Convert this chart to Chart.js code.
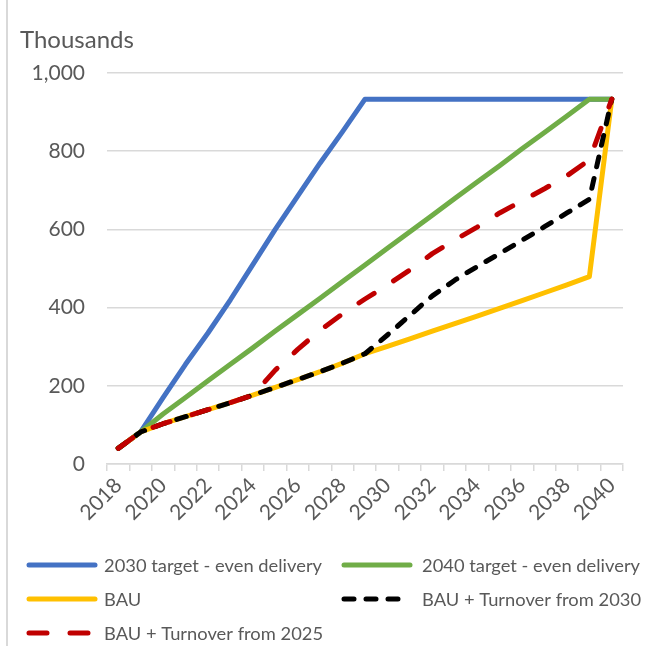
<!DOCTYPE html>
<html>
<head>
<meta charset="utf-8">
<script src="https://cdn.jsdelivr.net/npm/chart.js@4/dist/chart.umd.min.js"></script>
<style>
  html, body { margin: 0; padding: 0; background: #fff; }
  #wrap { width: 646px; height: 646px; }
</style>
</head>
<body>
<div id="wrap"><canvas id="chart" width="646" height="646"></canvas></div>
<script>
// Years on the x axis (every other one gets a label)
const years = ['2018', '2019', '2020', '2021', '2022', '2023', '2024', '2025', '2026', '2027', '2028', '2029',
               '2030', '2031', '2032', '2033', '2034', '2035', '2036', '2037', '2038', '2039', '2040'];

// Series values, in thousands
const target2030 = [40, 82, 170, 255, 335, 420, 510, 600, 685, 770, 850, 933,
                    933, 933, 933, 933, 933, 933, 933, 933, 933, 933, 933];
const target2040 = [40, 82, 128, 170, 213, 255, 297, 340, 382, 424, 467, 509,
                    552, 594, 636, 679, 721, 763, 806, 848, 890, 933, 933];
const bau = [40, 82, 103, 121, 139, 157, 176, 196, 216, 236, 258, 282,
             301, 320, 340, 359, 378, 398, 418, 438, 458, 479, 933];
const turnover2030 = [40, 82, 103, 121, 139, 157, 176, 196, 216, 236, 258, 282,
                      330, 380, 430, 470, 505, 538, 572, 607, 642, 677, 933];
const turnover2025 = [40, 82, 103, 121, 139, 157, 176, 240, 293, 342, 384, 422,
                      458, 496, 538, 573, 606, 642, 673, 704, 737, 778, 933];

const seriesNames = ['2030 target - even delivery', '2040 target - even delivery', 'BAU',
                     'BAU + Turnover from 2030', 'BAU + Turnover from 2025'];
const yTicks = [0, 200, 400, 600, 800, 1000];
const unitLabel = 'Thousands';

const textColor = '#595959';
const gridColor = '#d9d9d9';

// Draws the chart border, the "Thousands" label and the legend
const extrasPlugin = {
    id: 'extras',
    afterDraw(chart) {
        const ctx = chart.ctx;
        ctx.save();

        // left edge of the chart frame
        ctx.strokeStyle = gridColor;
        ctx.lineWidth = 2;
        ctx.beginPath();
        ctx.moveTo(7, 0);
        ctx.lineTo(7, 646);
        ctx.stroke();

        // display units label
        ctx.fillStyle = textColor;
        ctx.font = '24px Lato';
        ctx.textBaseline = 'alphabetic';
        ctx.textAlign = 'left';
        ctx.fillText(unitLabel, 20, 48);

        // legend, two columns
        ctx.font = '18px Lato';
        ctx.textBaseline = 'middle';
        const sx = 218 / ctx.measureText(seriesNames[0]).width;
        chart.data.datasets.forEach((ds, i) => {
            const col = i % 2;
            const row = Math.floor(i / 2);
            const x0 = col ? 342 : 27;
            const y = 565 + row * 34;

            ctx.strokeStyle = ds.borderColor;
            ctx.lineWidth = 5;
            ctx.lineCap = 'round';
            ctx.setLineDash(ds.borderDash || []);
            ctx.beginPath();
            ctx.moveTo(x0 + 2, y);
            ctx.lineTo(x0 + 68, y);
            ctx.stroke();
            ctx.setLineDash([]);

            ctx.save();
            ctx.translate(col ? 422 : 104, y);
            ctx.scale(sx, 1);
            ctx.fillStyle = textColor;
            ctx.fillText(ds.label, 0, 1);
            ctx.restore();
        });

        ctx.restore();
    }
};

function makeLine(label, data, color, dash, order) {
    return {
        label: label,
        data: data,
        borderColor: color,
        backgroundColor: color,
        borderWidth: 5,
        borderDash: dash,
        borderCapStyle: 'round',
        borderJoinStyle: 'round',
        pointRadius: 0,
        tension: 0,
        fill: false,
        order: order
    };
}

const chart = new Chart(document.getElementById('chart'), {
    type: 'line',
    data: {
        labels: years,
        datasets: [
            makeLine(seriesNames[0], target2030, '#4472C4', [], 5),
            makeLine(seriesNames[1], target2040, '#70AD47', [], 4),
            makeLine(seriesNames[2], bau, '#FFC000', [], 3),
            makeLine(seriesNames[3], turnover2030, '#000000', [10, 12], 2),
            makeLine(seriesNames[4], turnover2025, '#C00000', [18, 23], 1)
        ]
    },
    options: {
        responsive: false,
        animation: false,
        layout: { padding: { left: 0, right: 23, top: 73, bottom: 102 } },
        plugins: {
            legend: { display: false },
            tooltip: { enabled: false }
        },
        scales: {
            x: {
                type: 'category',
                offset: true,
                grid: {
                    offset: true,
                    drawOnChartArea: false,
                    drawTicks: true,
                    tickLength: 7,
                    color: gridColor,
                    lineWidth: 1.5
                },
                border: { display: true, color: gridColor, width: 1.5 },
                ticks: {
                    autoSkip: false,
                    minRotation: 45,
                    maxRotation: 45,
                    padding: 2,
                    color: textColor,
                    font: { family: 'Lato', size: 21 },
                    callback: (val, i) => (i % 2 === 0 ? years[i] : '')
                },
                afterFit: s => { s.height = 80; }
            },
            y: {
                min: 0,
                max: 1000,
                afterBuildTicks: s => { s.ticks = yTicks.map(v => ({ value: v })); },
                grid: { color: gridColor, lineWidth: 1.5, drawTicks: false },
                border: { display: false },
                ticks: {
                    padding: 22,
                    color: textColor,
                    font: { family: 'Lato', size: 21 },
                    callback: v => v.toLocaleString('en-US')
                },
                afterFit: s => { s.width = 107; }
            }
        }
    },
    plugins: [extrasPlugin]
});
</script>
</body>
</html>
